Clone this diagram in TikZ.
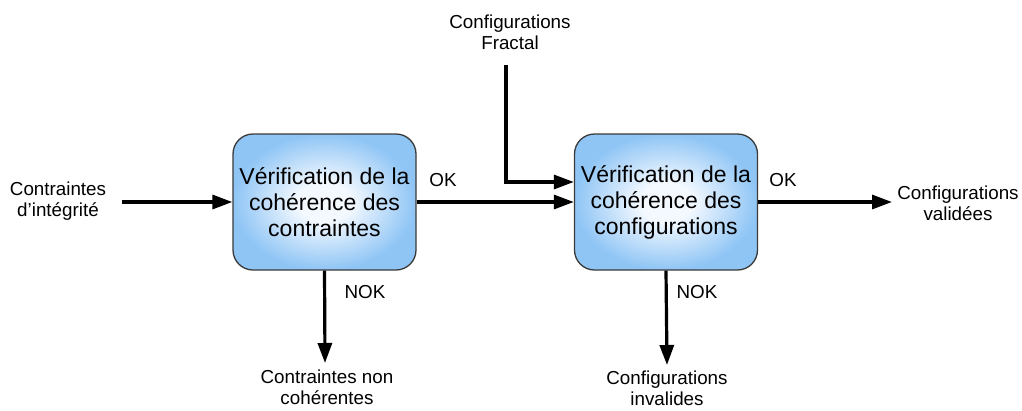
\documentclass[tikz,border=0pt]{standalone}
\usepackage{fontspec}
\setmainfont{Liberation Sans}
\usetikzlibrary{arrows.meta}
\definecolor{boxedge}{HTML}{8FC5F5}
\definecolor{boxmid}{HTML}{F4F9FF}
\definecolor{boxline}{HTML}{3A3A3A}
% soft glow: pale centre fading to blue at the rim
\pgfdeclareradialshading{boxglow}{\pgfpoint{0bp}{0bp}}{%
  color(0bp)=(boxmid); color(7bp)=(boxmid); color(25bp)=(boxedge); color(50bp)=(boxedge)}
\begin{document}
\begin{tikzpicture}[x=1pt,y=-1pt,
  proc/.style={draw=boxline, line width=1.3pt, rounded corners=20pt,
    minimum width=183pt, minimum height=136pt, inner sep=0pt,
    shading=boxglow, align=center,
    font=\fontsize{23}{26}\selectfont},
  lbl/.style={align=center, inner sep=0pt, font=\fontsize{18.8}{21}\selectfont},
  flow/.style={line width=3.2pt, -{Triangle[length=20pt,width=14pt]}},
]
\useasboundingbox (0,0) rectangle (1022,410);

% processing blocks
\node[proc] (b1) at (324.5,202) {Vérification de la\\cohérence des\\contraintes};
\node[proc] (b2) at (666,202) {Vérification de la\\cohérence des\\configurations};

% inputs and outputs
\node[lbl] (ci)  at (58,201)  {Contraintes\\d’intégrité};
\node[lbl] (cf)  at (510,32)  {Configurations\\Fractal};
\node[lbl] (cv)  at (958,203) {Configurations\\validées};
\node[lbl] (cnc) at (327,387) {Contraintes non\\cohérentes};
\node[lbl] (civ) at (667,388) {Configurations\\invalides};

% branch labels
\node[lbl] (ok1)  at (443,180) {OK};
\node[lbl] (ok2)  at (783,180) {OK};
\node[lbl] (nok1) at (365,292) {NOK};
\node[lbl] (nok2) at (697,292) {NOK};

% free ends of connectors
\coordinate (cistart) at (122,202);
\coordinate (cfstart) at (506,65);
\coordinate (cvend)   at (892,202);
\coordinate (cncend)  at (325,363);
\coordinate (civend)  at (667,365);

% connectors
\draw[flow] (cistart) -- (b1.west);
\draw[flow] (b1.east) -- (b2.west);
\draw[flow] (cfstart) |- ([yshift=20pt]b2.west);
\draw[flow] (b2.east) -- (cvend);
\draw[flow] (b1.south) -- (cncend);
\draw[flow] (b2.south) -- (civend);
\end{tikzpicture}
\end{document}
